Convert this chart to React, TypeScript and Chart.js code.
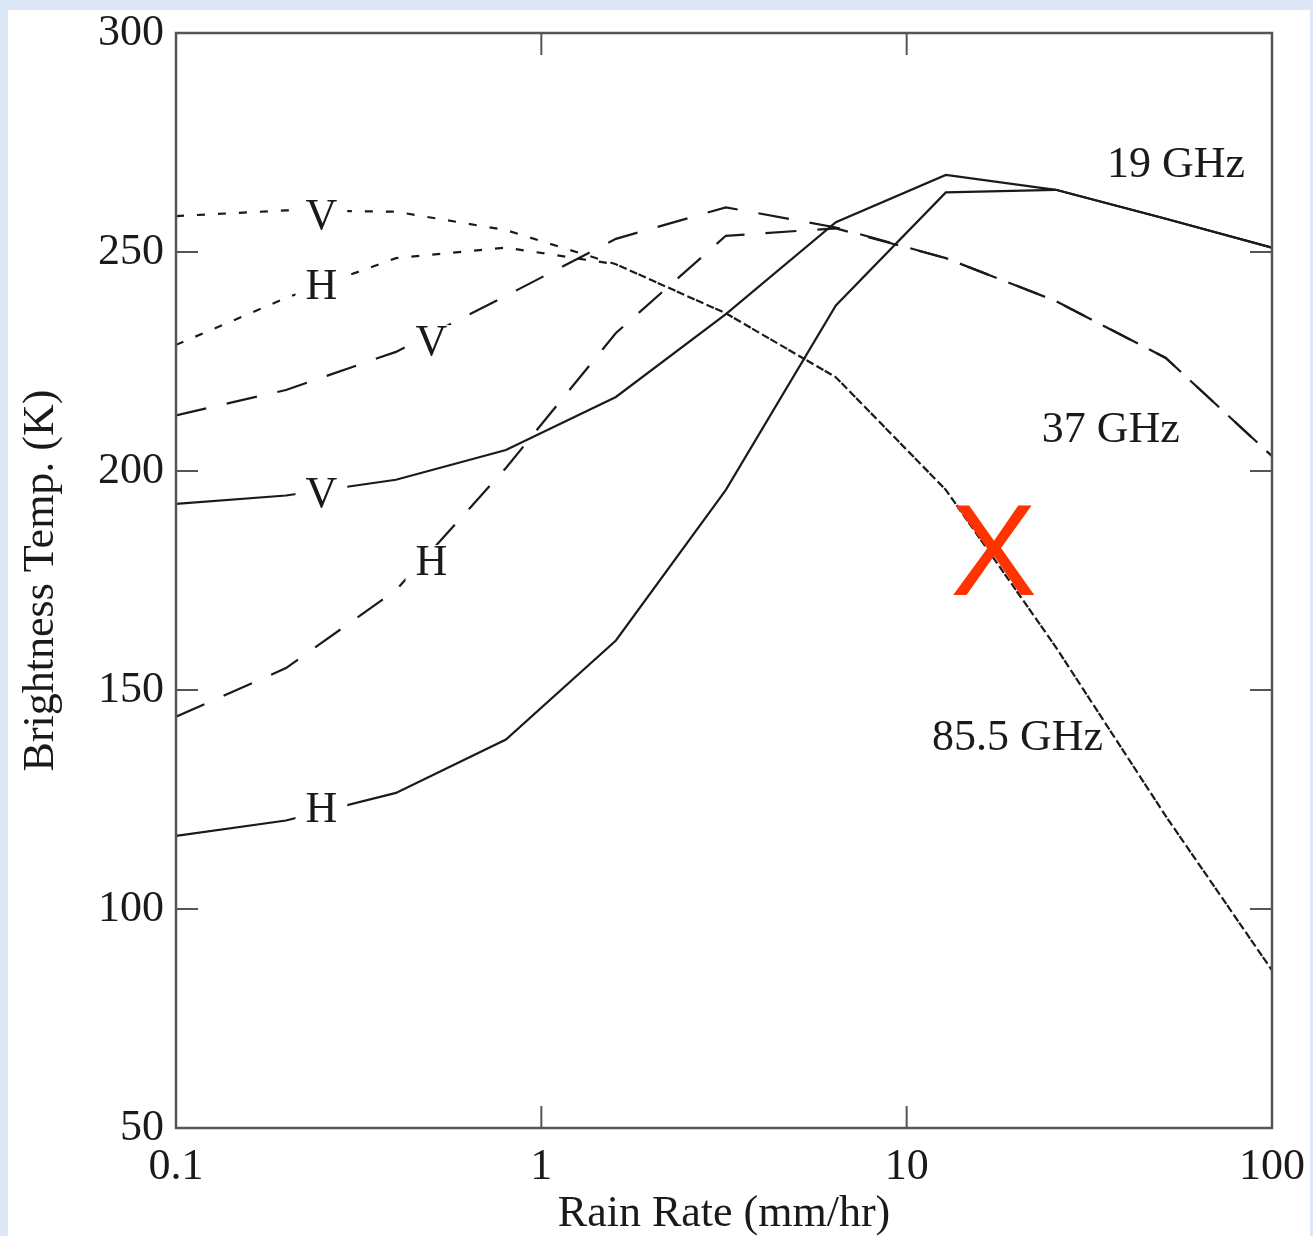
import React, { useEffect, useRef } from "react";
import { Chart, registerables } from "chart.js";

Chart.register(...registerables);

// ---- data ----
const rainRate = [0.1, 0.2, 0.4, 0.8, 1.6, 3.2, 6.4, 12.8, 25.6, 51.2, 100];
const tb19V = [192.5, 194.4, 198.0, 204.8, 216.9, 235.8, 256.8, 267.6, 264.2, 257.6, 251.0];
const tb19H = [116.7, 120.2, 126.5, 138.7, 161.3, 195.7, 237.8, 263.6, 264.2, 257.6, 251.0];
const tb37V = [212.7, 218.5, 227.2, 240.0, 253.0, 260.2, 255.6, 248.6, 238.8, 225.8, 203.4];
const tb37H = [143.9, 155.0, 172.8, 200.7, 231.5, 253.7, 255.4, 248.6, 238.8, 225.8, 203.4];
const tb85V = [258.2, 259.5, 259.2, 255.0, 247.2, 236.0, 221.4, 195.7, 159.8, 121.2, 86.0];
const tb85H = [228.8, 239.5, 248.6, 251.0, 247.2, 236.0, 221.4, 195.7, 159.8, 121.2, 86.0];

const xTickValues = [0.1, 1, 10, 100];
const xTickLabels = ["0.1", "1", "10", "100"];
const yTickValues = [50, 100, 150, 200, 250, 300];

const xTitle = "Rain Rate (mm/hr)";
const yTitle = "Brightness Temp. (K)";

// polarisation labels sitting on the curves
const polLabels = ["V", "H", "V", "V", "H", "H"];
const polLabelX = [0.25, 0.25, 0.5, 0.25, 0.5, 0.25];
const polLabelY = [257.8, 242.0, 229.2, 194.5, 179.0, 122.4];

// frequency labels
const freqLabels = ["19 GHz", "37 GHz", "85.5 GHz"];
const freqLabelX = [54.6, 36.2, 20.1];
const freqLabelY = [269.8, 209.3, 139.0];

// red cross mark
const markText = "X";
const markX = 17.3;
const markY = 179.8;

const SERIF = "'Liberation Serif', 'Times New Roman', serif";
const SANS = "'Liberation Sans', Arial, sans-serif";
const INK = "#1a1a1a";
const AXIS = "#555555";

const framePlugin = {
  id: "frameTicks",
  afterDatasetsDraw(chart: any) {
    const { ctx, chartArea: a, scales } = chart;
    ctx.save();
    ctx.strokeStyle = AXIS;
    ctx.lineWidth = 2.5;
    ctx.strokeRect(a.left, a.top, a.right - a.left, a.bottom - a.top);
    ctx.lineWidth = 2;
    const len = 22;
    ctx.beginPath();
    for (const v of xTickValues) {
      const px = scales.x.getPixelForValue(v);
      if (px <= a.left + 1 || px >= a.right - 1) continue;
      ctx.moveTo(px, a.bottom);
      ctx.lineTo(px, a.bottom - len);
      ctx.moveTo(px, a.top);
      ctx.lineTo(px, a.top + len);
    }
    for (const v of yTickValues) {
      const py = scales.y.getPixelForValue(v);
      if (py <= a.top + 1 || py >= a.bottom - 1) continue;
      ctx.moveTo(a.left, py);
      ctx.lineTo(a.left + len, py);
      ctx.moveTo(a.right, py);
      ctx.lineTo(a.right - len, py);
    }
    ctx.stroke();
    ctx.restore();
  },
};

const labelPlugin = {
  id: "curveLabels",
  afterDraw(chart: any) {
    const { ctx, scales } = chart;
    ctx.save();
    ctx.textAlign = "center";
    ctx.textBaseline = "middle";
    ctx.font = `44px ${SERIF}`;
    for (let i = 0; i < polLabels.length; i++) {
      const px = scales.x.getPixelForValue(polLabelX[i]);
      const py = scales.y.getPixelForValue(polLabelY[i]);
      const w = ctx.measureText(polLabels[i]).width + 20;
      ctx.fillStyle = "#ffffff";
      ctx.fillRect(px - w / 2, py - 18, w, 36);
      ctx.fillStyle = INK;
      ctx.fillText(polLabels[i], px, py);
    }
    for (let i = 0; i < freqLabels.length; i++) {
      const px = scales.x.getPixelForValue(freqLabelX[i]);
      const py = scales.y.getPixelForValue(freqLabelY[i]);
      ctx.fillStyle = INK;
      ctx.fillText(freqLabels[i], px, py);
    }
    ctx.font = `130px ${SANS}`;
    ctx.fillStyle = "#ff3300";
    ctx.fillText(
      markText,
      scales.x.getPixelForValue(markX),
      scales.y.getPixelForValue(markY)
    );
    ctx.restore();
  },
};

function series(values: number[]) {
  return rainRate.map((x, i) => ({ x, y: values[i] }));
}

function zeroPadding(s: any) {
  s.paddingTop = 0;
  s.paddingBottom = 0;
  s.paddingLeft = 0;
  s.paddingRight = 0;
}

export default function App() {
  const ref = useRef<HTMLCanvasElement | null>(null);

  useEffect(() => {
    if (!ref.current) return;
    const solid: number[] = [];
    const longDash = [31, 21];
    const dotted = [8, 13];
    const mk = (label: string, vals: number[], dash: number[]) => ({
      label,
      data: series(vals),
      borderColor: INK,
      borderWidth: 2.2,
      borderDash: dash,
      pointRadius: 0,
      fill: false,
      tension: 0,
    });
    const chart = new Chart(ref.current, {
      type: "line",
      data: {
        datasets: [
          mk("19 GHz V", tb19V, solid),
          mk("19 GHz H", tb19H, solid),
          mk("37 GHz V", tb37V, longDash),
          mk("37 GHz H", tb37H, longDash),
          mk("85.5 GHz V", tb85V, dotted),
          mk("85.5 GHz H", tb85H, dotted),
        ],
      },
      options: {
        animation: false,
        responsive: false,
        devicePixelRatio: 1,
        layout: { padding: { top: 23, right: 38, left: 0, bottom: 0 } },
        plugins: {
          legend: { display: false },
          tooltip: { enabled: false },
        },
        scales: {
          x: {
            type: "logarithmic",
            min: 0.1,
            max: 100,
            afterBuildTicks: (s: any) => {
              s.ticks = xTickValues.map((v) => ({ value: v }));
            },
            afterFit: (s: any) => {
              s.height = 108;
              zeroPadding(s);
            },
            grid: { display: false, drawTicks: false },
            border: { display: false },
            ticks: {
              autoSkip: false,
              maxRotation: 0,
              padding: 17,
              color: INK,
              font: { family: SERIF, size: 44, lineHeight: 1 },
              callback: (v: any) => {
                const i = xTickValues.findIndex((t) => Math.abs(t - Number(v)) < 1e-9);
                return i >= 0 ? xTickLabels[i] : "";
              },
            },
            title: {
              display: true,
              text: xTitle,
              color: INK,
              font: { family: SERIF, size: 44, lineHeight: 1 },
              padding: { top: 0, bottom: 0 },
            },
          },
          y: {
            type: "linear",
            min: 50,
            max: 300,
            afterBuildTicks: (s: any) => {
              s.ticks = yTickValues.map((v) => ({ value: v }));
            },
            afterFit: (s: any) => {
              s.width = 168;
              zeroPadding(s);
            },
            grid: { display: false, drawTicks: false },
            border: { display: false },
            ticks: {
              padding: 12,
              color: INK,
              font: { family: SERIF, size: 44, lineHeight: 1 },
            },
            title: {
              display: true,
              text: yTitle,
              color: INK,
              font: { family: SERIF, size: 44, lineHeight: 1 },
              padding: { top: 11, bottom: 0 },
            },
          },
        },
      },
      plugins: [framePlugin, labelPlugin],
    } as any);
    return () => chart.destroy();
  }, []);

  return (
    <div
      style={{
        position: "fixed",
        left: 0,
        top: 0,
        width: 1313,
        height: 1236,
        background: "#dce8f6",
        overflow: "hidden",
      }}
    >
      <div
        style={{
          position: "absolute",
          left: 8,
          top: 10,
          width: 1302,
          height: 1226,
          background: "#ffffff",
        }}
      >
        <canvas
          ref={ref}
          width={1302}
          height={1226}
          style={{ width: 1302, height: 1226, display: "block" }}
        />
      </div>
    </div>
  );
}
